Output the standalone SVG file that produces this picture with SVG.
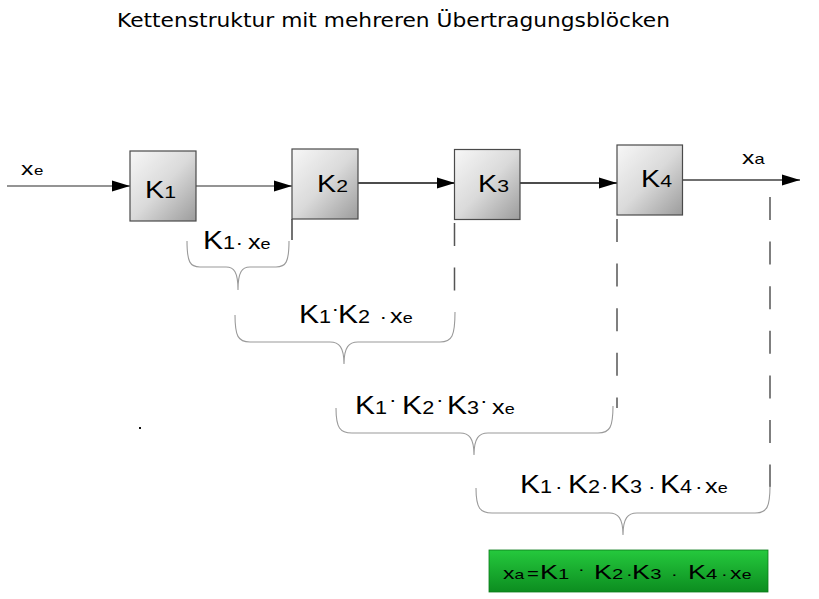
<svg xmlns="http://www.w3.org/2000/svg" width="819" height="599" viewBox="0 0 819 599">
<style>
.t{font-family:"Liberation Sans",Arial,sans-serif;fill:#000}
.box{fill:url(#gbox);stroke:#4a4a4a;stroke-width:1.2}
.ar{stroke-width:1.4;fill:none;marker-end:url(#ah)}
.br{fill:none;stroke:#9a9a9a;stroke-width:1.1}
.dash{stroke:#555;stroke-width:1.5;stroke-dasharray:23 21.6;fill:none}
.K{font-size:25px}.n{font-size:18px}.d{font-size:19px}.x{font-size:21px}.e{font-size:15px}
.bK{font-size:23px}.bn{font-size:17px}
.gK{font-size:20px}.gn{font-size:15px}.gx{font-size:17px}.ge{font-size:13px}
</style>
<defs>
<linearGradient id="gbox" x1="0" y1="0" x2="1" y2="1">
<stop offset="0" stop-color="#f7f7f7"/>
<stop offset="0.5" stop-color="#dadada"/>
<stop offset="1" stop-color="#9c9c9c"/>
</linearGradient>
<linearGradient id="ggreen" x1="0" y1="0" x2="0" y2="1">
<stop offset="0" stop-color="#25c93d"/>
<stop offset="1" stop-color="#0c8d20"/>
</linearGradient>
<marker id="ah" markerUnits="userSpaceOnUse" markerWidth="18" markerHeight="12" refX="18" refY="6" orient="auto">
<path d="M0,0.5 L18,6 L0,11.5 z" fill="#000"/>
</marker>
</defs>
<rect width="819" height="599" fill="#fff"/>

<text class="t" x="117" y="27" style="font-family:'Comic Sans MS','DejaVu Sans',sans-serif;font-size:19px" textLength="553" lengthAdjust="spacingAndGlyphs">Kettenstruktur mit mehreren Übertragungsblöcken</text>

<g id="connectors">
<line class="ar" x1="7" y1="186" x2="130" y2="186" stroke="#707070"/>
<line class="ar" x1="196" y1="186" x2="292" y2="186" stroke="#707070"/>
<line class="ar" x1="358" y1="183" x2="455" y2="183" stroke="#111"/>
<line class="ar" x1="520" y1="183" x2="617" y2="183" stroke="#111"/>
<line class="ar" x1="683" y1="180" x2="800" y2="180" stroke="#707070" style="stroke-width:2"/>
<line x1="292" y1="219" x2="292" y2="240" stroke="#444" stroke-width="1.5"/>
<line class="dash" x1="454.5" y1="223" x2="454.5" y2="292"/>
<line class="dash" x1="617" y1="219" x2="617" y2="408"/>
<line class="dash" x1="770" y1="197" x2="770" y2="487"/>
</g>

<g id="in-label">
<text class="t" transform="translate(21,175) scale(1.3,1)"><tspan x="0" style="font-size:19px">x</tspan><tspan x="10" style="font-size:13px">e</tspan></text>
</g>
<g id="out-label">
<text class="t" transform="translate(742,164) scale(1.3,1)"><tspan x="0" style="font-size:19px">x</tspan><tspan x="9.7" style="font-size:14px">a</tspan></text>
</g>

<g id="K1">
<rect class="box" x="130" y="151" width="66" height="70"/>
<text class="t" transform="translate(145,198) scale(1.25,1)"><tspan class="bK" x="0">K</tspan><tspan class="bn" x="15.4">1</tspan></text>
</g>
<g id="K2">
<rect class="box" x="292" y="149" width="66" height="70"/>
<text class="t" transform="translate(317,192) scale(1.25,1)"><tspan class="bK" x="0">K</tspan><tspan class="bn" x="15.4">2</tspan></text>
</g>
<g id="K3">
<rect class="box" x="454.5" y="149.5" width="65.5" height="70"/>
<text class="t" transform="translate(478,192) scale(1.25,1)"><tspan class="bK" x="0">K</tspan><tspan class="bn" x="15.4">3</tspan></text>
</g>
<g id="K4">
<rect class="box" x="617" y="145" width="65.5" height="70"/>
<text class="t" transform="translate(641,187) scale(1.25,1)"><tspan class="bK" x="0">K</tspan><tspan class="bn" x="15.4">4</tspan></text>
</g>

<g id="brace1">
<path class="br" d="M187,241 C187,262 190,267 200,267 L226,267 C234,267 238,272 238,290 C238,272 242,267 250,267 L276,267 C286,267 289,262 289,241"/>
<text class="t" transform="translate(203,249) scale(1.2,1)"><tspan class="K" x="0">K</tspan><tspan class="n" x="16.7">1</tspan><tspan class="d" x="27">·</tspan><tspan class="x" x="37.5">x</tspan><tspan class="e" x="48">e</tspan></text>
</g>

<g id="brace2">
<path class="br" d="M235,315 C235,336 238,342 250,342 L330,342 C339,342 344,347 344,364 C344,347 349,342 358,342 L440,342 C452,342 455,336 455,312"/>
<text class="t" transform="translate(299,323) scale(1.2,1)"><tspan class="K" x="0">K</tspan><tspan class="n" x="16.7">1</tspan><tspan class="d" x="27" y="-8">·</tspan><tspan class="K" x="32.5" y="0">K</tspan><tspan class="n" x="49.2">2</tspan><tspan class="d" x="67">·</tspan><tspan class="x" x="75.8">x</tspan><tspan class="e" x="86.5">e</tspan></text>
</g>

<g id="brace3">
<path class="br" d="M336,408 C336,428 340,433 352,433 L460,433 C469,433 474,438 474,455 C474,438 479,433 488,433 L598,433 C610,433 613,427 613,406"/>
<text class="t" transform="translate(355,414) scale(1.2,1)"><tspan class="K" x="0">K</tspan><tspan class="n" x="16.7">1</tspan><tspan class="d" x="28.3" y="-8">·</tspan><tspan class="K" x="39.2" y="0">K</tspan><tspan class="n" x="56">2</tspan><tspan class="d" x="67.5" y="-8">·</tspan><tspan class="K" x="76.7" y="0">K</tspan><tspan class="n" x="93.4">3</tspan><tspan class="d" x="104.2" y="-7">·</tspan><tspan class="x" x="114.2" y="0">x</tspan><tspan class="e" x="124.7">e</tspan></text>
</g>

<g id="brace4">
<path class="br" d="M476,488 C476,508 480,513 492,513 L609,513 C618,513 623,518 623,535 C623,518 628,513 637,513 L755,513 C767,513 770,507 770,486"/>
<text class="t" transform="translate(520,493) scale(1.2,1)"><tspan class="K" x="0">K</tspan><tspan class="n" x="16.7">1</tspan><tspan class="d" x="29.2">·</tspan><tspan class="K" x="40">K</tspan><tspan class="n" x="56.7">2</tspan><tspan class="d" x="67.5">·</tspan><tspan class="K" x="75">K</tspan><tspan class="n" x="91.7">3</tspan><tspan class="d" x="106.7">·</tspan><tspan class="K" x="116.7">K</tspan><tspan class="n" x="133.4">4</tspan><tspan class="d" x="145.8">·</tspan><tspan class="x" x="154.2">x</tspan><tspan class="e" x="164.7">e</tspan></text>
</g>

<rect x="139" y="427" width="2" height="2" fill="#111"/>

<g id="result">
<rect x="489" y="550" width="279" height="42" fill="url(#ggreen)" stroke="#0a7a1a" stroke-width="0.8"/>
<text class="t" transform="translate(503,579) scale(1.35,1)"><tspan class="gx" x="0">x</tspan><tspan class="ge" x="8.6">a</tspan><tspan class="gn" x="17.8">=</tspan><tspan class="gK" x="27.4">K</tspan><tspan class="gn" x="40.8">1</tspan><tspan class="gn" x="55.6" y="-5">·</tspan><tspan class="gK" x="67.4" y="0">K</tspan><tspan class="gn" x="80.8">2</tspan><tspan class="gn" x="91.1">·</tspan><tspan class="gK" x="95.6">K</tspan><tspan class="gn" x="109">3</tspan><tspan class="gn" x="124.4">·</tspan><tspan class="gK" x="137">K</tspan><tspan class="gn" x="150.4">4</tspan><tspan class="gn" x="161.5">·</tspan><tspan class="gx" x="168.1">x</tspan><tspan class="ge" x="176.8">e</tspan></text>
</g>
</svg>
